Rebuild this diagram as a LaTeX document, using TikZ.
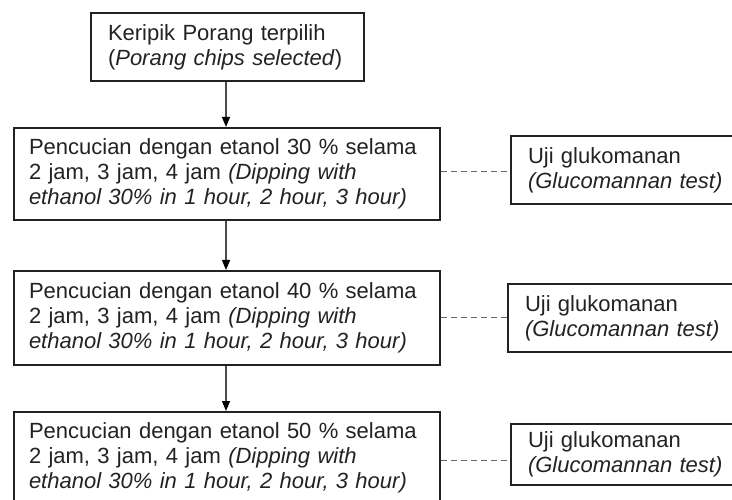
\documentclass[tikz,border=0pt]{standalone}
\usepackage{fontspec}
\setmainfont{Liberation Sans}
\usetikzlibrary{arrows.meta}
\definecolor{ink}{HTML}{222222}
\tikzset{
  mainbox/.style={draw=ink, line width=2pt, anchor=north west, align=left,
    text=ink, inner xsep=15pt, inner ysep=0pt, font=\fontsize{22}{25}\selectfont},
  testbox/.style={draw=ink, line width=2pt, anchor=north west, align=left,
    text=ink, inner xsep=17pt, inner ysep=0pt, text width=216pt, minimum width=250pt,
    font=\fontsize{22}{25}\selectfont},
  flow/.style={draw=black!70, line width=1.2pt, -{Triangle[length=10pt,width=8pt,black]}},
  link/.style={draw=black!60, line width=1pt, dash pattern=on 6pt off 4pt}
}
\begin{document}
\begin{tikzpicture}[x=1pt,y=-1pt]
\useasboundingbox (0,0) rectangle (732,500);
\clip (0,0) rectangle (732,500);
\node[mainbox, inner xsep=17pt, text width=239pt, minimum width=273pt, minimum height=68pt] (b1) at (90,12)
  {Keripik Porang terpilih\\(\textit{Porang chips selected})};
\node[mainbox, text width=396pt, minimum width=426pt, minimum height=92pt] (b2) at (13,127)
  {Pencucian dengan etanol 30 \% selama\\2 jam, 3 jam, 4 jam \textit{(Dipping with}\\\textit{ethanol 30\% in 1 hour, 2 hour, 3 hour)}};
\node[mainbox, text width=396pt, minimum width=426pt, minimum height=94pt] (b3) at (13,270)
  {Pencucian dengan etanol 40 \% selama\\2 jam, 3 jam, 4 jam \textit{(Dipping with}\\\textit{ethanol 30\% in 1 hour, 2 hour, 3 hour)}};
\node[mainbox, text width=396pt, minimum width=426pt, minimum height=92pt] (b4) at (13,411)
  {Pencucian dengan etanol 50 \% selama\\2 jam, 3 jam, 4 jam \textit{(Dipping with}\\\textit{ethanol 30\% in 1 hour, 2 hour, 3 hour)}};
\node[testbox, minimum height=68pt] (r1) at (510,135)
  {Uji glukomanan\\\textit{(Glucomannan test)}};
\node[testbox, minimum height=68pt] (r2) at (507,283)
  {Uji glukomanan\\\textit{(Glucomannan test)}};
\node[testbox, minimum height=61pt] (r3) at (510,423)
  {Uji glukomanan\\\textit{(Glucomannan test)}};
\draw[flow] (b1.south -| 226,0) -- (b2.north -| 226,0);
\draw[flow] (b2.south -| 226,0) -- (b3.north -| 226,0);
\draw[flow] (b3.south -| 226,0) -- (b4.north -| 226,0);
\draw[link] (b2.east |- 0,172) -- (r1.west |- 0,172);
\draw[link] (b3.east |- 0,317) -- (r2.west |- 0,317);
\draw[link] (b4.east |- 0,460) -- (r3.west |- 0,460);
\end{tikzpicture}
\end{document}
